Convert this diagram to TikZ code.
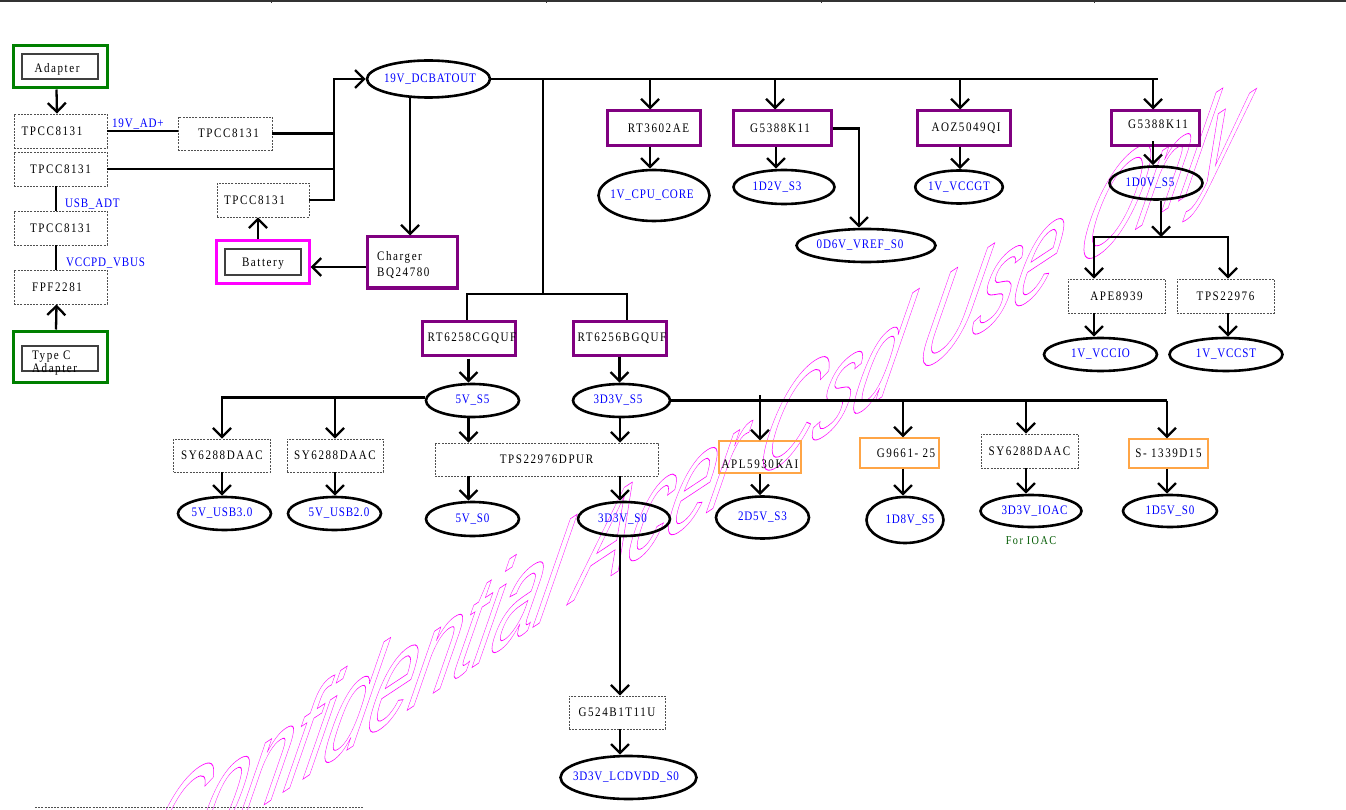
\documentclass[tikz,border=0pt]{standalone}
\usepackage{fontspec}
\setmainfont{Liberation Serif}
\newfontfamily\boxfont[FakeStretch=0.85,LetterSpace=12]{Liberation Serif}
\newfontfamily\netfont[FakeStretch=0.85,LetterSpace=6]{Liberation Serif}
\newfontfamily\wmfont{Liberation Sans}
\usetikzlibrary{arrows.meta,shapes.geometric}
\newcommand\shx[2]{\makebox[0pt]{\hspace*{#1}#2}}
\newcommand\vsh[2]{\raisebox{#1}[\height][\depth]{#2}}
\definecolor{purp}{RGB}{128,0,128}
\definecolor{grn}{RGB}{0,128,0}
\definecolor{mag}{RGB}{255,0,255}
\definecolor{org}{RGB}{255,165,70}
\definecolor{netblue}{RGB}{0,0,255}
\definecolor{ioacgreen}{RGB}{0,90,0}
\definecolor{dgray}{RGB}{80,80,80}
\begin{document}
\begin{tikzpicture}[x=1pt,y=-1pt,line width=2.3pt,
 sz/.style n args={2}{minimum width=#1pt,minimum height=#2pt},
 nd/.style={inner sep=0pt},
 bt/.style={font=\boxfont\fontsize{13}{16}\selectfont},
 nt/.style={font=\netfont\fontsize{13}{16}\selectfont,text=netblue},
 dbox/.style={nd,bt,draw=dgray,line width=0.9pt,dash pattern=on 2pt off 1.2pt},
 pbox/.style={nd,bt,draw=purp,line width=3pt},
 gbox/.style={nd,draw=grn,line width=3pt},
 mbox/.style={nd,draw=mag,line width=3pt},
 ibox/.style={nd,bt,draw=black!75,line width=1.3pt},
 obox/.style={nd,bt,draw=org,line width=1.2pt},
 net/.style={nd,nt,ellipse,draw=black,line width=2.6pt},
 arr/.style={-{Straight Barb[length=9pt,width=18pt]}},
 lab/.style={nd,nt,anchor=west},
 wmark/.style={transform shape,anchor=base west,inner sep=0pt},
]
\fill[white] (0,0) rectangle (1346,810);
\useasboundingbox (0,0) rectangle (1346,810);

% ---------- watermark (outline text, behind the diagram) ----------
\begin{scope}
\clip (0,0) rectangle (1346,810);
\begin{scope}[cm={0.78,0.515,0.52,1.50,(132,892)}]
\node[wmark,text=mag] (wm) at (0,0) {\special{pdf:literal direct 1 Tr 0.55 w}\wmfont\fontsize{100}{100}\selectfont Confidential Acer Csd Use Only\special{pdf:literal direct 0 Tr}};
\end{scope}
\end{scope}

% frame remnants
\draw[line width=2pt,black!80] (0,1.5) -- (1346,1.5);
\foreach \t in {271,546,821,1094} \draw[line width=1pt,black!80] (\t,0) -- (\t,3);
\draw[line width=0.9pt,dgray,dash pattern=on 2pt off 1.2pt] (35,807) -- (363,807);

% ---------- left column ----------
\node[gbox,sz={94}{42}] (adapter) at (60,67) {};
\node[ibox,sz={76}{25}] (adapterin) at (60,66.5) {\shx{-6pt}{\vsh{-2.5pt}{Adapter}}};
\node[dbox,sz={93}{34}] (tpcc1) at (60.5,131) {\shx{-17pt}{TPCC8131}};
\node[dbox,sz={94}{33}] (tpcc2) at (225,133.5) {\shx{7pt}{TPCC8131}};
\node[dbox,sz={93}{34}] (tpcc3) at (60.5,169) {\shx{0pt}{TPCC8131}};
\node[dbox,sz={92}{34}] (tpcc4) at (263,200) {\shx{-17pt}{TPCC8131}};
\node[dbox,sz={93}{34}] (tpcc5) at (60.5,228) {\shx{0pt}{TPCC8131}};
\node[dbox,sz={93}{34}] (fpf) at (60.5,287) {\shx{-7pt}{FPF2281}};
\node[gbox,sz={94}{51}] (typec) at (60,356.5) {};
\node[ibox,sz={76}{25}] (typecin) at (60,358.5) {};
\node[nd,bt,anchor=north west,align=left,font=\boxfont\fontsize{13}{13}\selectfont] (typectxt) at (31,350) {Type C\\Adapter};
\node[mbox,sz={93}{43}] (battery) at (262.5,262.5) {};
\node[ibox,sz={76}{26}] (batteryin) at (263,262) {\vsh{-2pt}{Battery}};
\node[lab] (l19) at (111,124) {19V\_AD+};
\node[lab] (lusb) at (64,204) {USB\_ADT};
\node[lab] (lvcc) at (65,263) {VCCPD\_VBUS};

% ---------- 19V ----------
\node[net,sz={123}{37}] (dcbat) at (428.5,79) {\shx{3pt}{19V\_DCBATOUT}};
\node[pbox,sz={90}{51}] (charger) at (412,262.5) {};
\node[nd,bt,anchor=north west,align=left] (chgtxt) at (376,250) {Charger\\BQ24780};

\coordinate (vb) at (334,79);
\draw[arr] ([xshift=-3.5pt]adapter.south) -- ([xshift=-3.5pt]tpcc1.north);
\draw (tpcc1.east) -- (tpcc1.east -| tpcc2.west);
\draw (tpcc2.east) -- (tpcc2.east -| vb);
\draw (tpcc3.east) -- (tpcc3.east -| vb);
\draw[arr] (tpcc4.east) -- (tpcc4.east -| vb) -- (vb) -- (dcbat.west);
\draw ([xshift=-4.5pt]tpcc3.south) -- ([xshift=-4.5pt]tpcc5.north);
\draw ([xshift=-4.5pt]tpcc5.south) -- ([xshift=-4.5pt]fpf.north);
\draw[arr] ([xshift=-4pt]typec.north) -- ([xshift=-4pt]fpf.south);
\draw[arr] ([xshift=-4.5pt]battery.north) -- ([xshift=-4.5pt]battery.north |- tpcc4.south);
\draw[arr] ([yshift=-4.5pt]charger.west) -- ([yshift=-4.5pt]charger.west -| battery.east);
\draw[arr] ([xshift=-18.5pt,yshift=2pt]dcbat.south) -- ([xshift=-18.5pt]dcbat.south |- charger.north);

% ---------- top bus ----------
\coordinate (busend) at (1158,79);
\draw (dcbat.east) -- (busend);
\node[pbox,sz={93}{35}] (rt3602) at (653.5,128.5) {\shx{10pt}{RT3602AE}};
\node[net,sz={111}{51}] (cpucore) at (654,195.5) {\shx{-4pt}{1V\_CPU\_CORE}};
\node[pbox,sz={98}{35}] (g5388a) at (782,128.5) {\shx{-4pt}{G5388K11}};
\node[net,sz={101}{34}] (d2v) at (784,187) {\shx{-14pt}{1D2V\_S3}};
\node[net,sz={139}{33}] (vref) at (866,245.5) {\shx{-12pt}{0D6V\_VREF\_S0}};
\node[pbox,sz={93}{35}] (aoz) at (963.5,128.5) {\shx{5pt}{AOZ5049QI}};
\node[net,sz={84}{33}] (vccgt) at (959,187) {1V\_VCCGT};
\node[pbox,sz={88}{35}] (g5388b) at (1155,128.5) {\shx{6pt}{\vsh{4pt}{G5388K11}}};
\node[net,sz={93}{33}] (d0v) at (1156,183) {\shx{-12pt}{1D0V\_S5}};
\node[dbox,sz={97}{34}] (ape) at (1116.5,296) {APE8939};
\node[dbox,sz={97}{34}] (tps) at (1225.5,296) {TPS22976};
\node[net,sz={113}{33}] (vccio) at (1100.5,354.5) {1V\_VCCIO};
\node[net,sz={113}{33}] (vccst) at (1226,354.5) {1V\_VCCST};

\coordinate (t1) at (650,79);
\coordinate (t2) at (775,79);
\coordinate (t3) at (960,79);
\coordinate (t4) at (1153,79);
\draw[arr] (t1) -- (t1 |- rt3602.north);
\draw[arr] (t2) -- (t2 |- g5388a.north);
\draw[arr] (t3) -- (t3 |- aoz.north);
\draw[arr] (t4) -- (t4 |- g5388b.north);
\draw[arr] ([xshift=-3.5pt]rt3602.south) -- ([xshift=-3.5pt]rt3602.south |- cpucore.north);
\draw[arr] ([xshift=-6pt]g5388a.south) -- ([xshift=-6pt]g5388a.south |- d2v.north);
\coordinate (vr) at (859,128.5);
\draw[arr] (g5388a.east) -- (vr) -- (vr |- vref.north);
\draw[arr] ([xshift=-3.5pt]aoz.south) -- ([xshift=-3.5pt]aoz.south |- vccgt.north);
\draw[arr] ([xshift=-2pt,yshift=6pt]g5388b.south) -- ([xshift=-2pt]g5388b.south |- d0v.north);
\coordinate (j2) at (1161,237);
\draw[arr] ([xshift=5pt]d0v.south) -- (j2);
\draw[arr] (j2) -| ([xshift=-22.5pt]ape.north);
\draw[arr] (j2) -| ([xshift=2.5pt]tps.north);
\draw[arr] ([xshift=-22.5pt]ape.south) -- ([xshift=-22.5pt]ape.south |- vccio.north);
\draw[arr] ([xshift=2.5pt]tps.south) -- ([xshift=2.5pt]tps.south |- vccst.north);

% ---------- middle ----------
\node[pbox,sz={93}{34}] (rt6258) at (468.5,338) {\shx{7pt}{RT6258CGQUF}};
\node[pbox,sz={93}{34}] (rt6256) at (619.5,338) {\shx{5pt}{RT6256BGQUF}};
\node[net,sz={93}{33}] (v5s5) at (472.5,400.5) {5V\_S5};
\node[net,sz={97}{33}] (v33s5) at (621.5,400.5) {\shx{-7pt}{3D3V\_S5}};
\node[dbox,sz={97}{33}] (sy1) at (222,455.5) {SY6288DAAC};
\node[dbox,sz={96}{33}] (sy2) at (335,455.5) {SY6288DAAC};
\node[net,sz={93}{33}] (usb3) at (224.5,513.5) {\shx{-5pt}{5V\_USB3.0}};
\node[net,sz={93}{33}] (usb2) at (334.5,513.5) {\shx{9pt}{5V\_USB2.0}};
\node[dbox,sz={223}{33}] (tpsd) at (546.5,459.5) {TPS22976DPUR};
\node[net,sz={93}{34}] (v5s0) at (472.5,519) {5V\_S0};
\node[net,sz={92}{34}] (v33s0) at (624,519) {\shx{-3pt}{3D3V\_S0}};
\node[dbox,sz={96}{33}] (g524) at (617,712.5) {G524B1T11U};
\node[net,sz={136}{43}] (lcd) at (628.5,777.5) {\shx{-5pt}{3D3V\_LCDVDD\_S0}};

\coordinate (tap) at (543,79);
\coordinate (jn) at (543,294);
\draw (tap) -- (jn);
\draw ([xshift=-1.5pt]rt6258.north) |- (jn) -| ([xshift=7.5pt]rt6256.north);
\draw[arr] ([yshift=-2pt]rt6258.south) -- (rt6258.south |- v5s5.north);
\draw[arr] (rt6256.south) -- (rt6256.south |- v33s5.north);
\coordinate (hl) at ([yshift=3pt]v5s5.west);
\draw[arr] (hl) -| (sy1.north);
\draw[arr] (hl -| sy2.north) -- (sy2.north);
\draw[arr] (sy1.south) -- (sy1.south |- usb3.north);
\draw[arr] (sy2.south) -- (sy2.south |- usb2.north);
\draw[arr] ([xshift=-4pt]v5s5.south) -- ([xshift=-4pt]v5s5.south |- tpsd.north);
\draw[arr] ([xshift=-1.5pt]v33s5.south) -- ([xshift=-1.5pt]v33s5.south |- tpsd.north);
\draw[arr] ([xshift=-4pt]v5s0.north |- tpsd.south) -- ([xshift=-4pt]v5s0.north);
\draw[arr] ([xshift=-4pt]v33s0.north |- tpsd.south) -- ([xshift=-4pt]v33s0.north);
\draw[arr] ([xshift=-4pt]v33s0.south) -- ([xshift=-4pt]v33s0.south |- g524.north);
\draw[arr] ([xshift=3pt]g524.south) -- ([xshift=3pt]g524.south |- lcd.north);

% ---------- right middle ----------
\node[obox,sz={82}{32}] (apl) at (760,457) {\vsh{-7pt}{APL5930KAI}};
\node[net,sz={93}{42}] (d25) at (762.5,517.5) {2D5V\_S3};
\node[obox,sz={79}{30}] (g9661) at (899.5,453) {\shx{13pt}{G9661- 25}};
\node[net,sz={77}{46}] (d18) at (905,520) {\shx{10pt}{1D8V\_S5}};
\node[dbox,sz={97}{34}] (sy3) at (1029.5,451) {SY6288DAAC};
\node[net,sz={101}{32}] (ioac) at (1031,511) {\shx{7pt}{3D3V\_IOAC}};
\node[nd,text=ioacgreen,font=\boxfont\fontsize{12}{14}\selectfont] (forioac) at (1031,541) {For IOAC};
\node[obox,sz={79}{29}] (s1339) at (1168.5,453.5) {S- 1339D15};
\node[net,sz={94}{32}] (d15) at (1170,511) {1D5V\_S0};

\coordinate (rb) at (1167,400.5);
\draw (v33s5.east) -- (rb);
\coordinate (a1) at (760,395);
\coordinate (a2) at (903,400.5);
\coordinate (a3) at (1026,400.5);
\draw[arr] (a1) -- (a1 |- apl.north);
\draw[arr] (a2) -- (a2 |- g9661.north);
\draw[arr] (a3) -- (a3 |- sy3.north);
\draw[arr] (rb) -- (rb |- s1339.north);
\draw[arr] (apl.south) -- (apl.south |- d25.north);
\draw[arr] ([xshift=3.5pt]g9661.south) -- ([xshift=3.5pt]g9661.south |- d18.north);
\draw[arr] ([xshift=-3.5pt]sy3.south) -- ([xshift=-3.5pt]sy3.south |- ioac.north);
\draw[arr] ([xshift=-1.5pt]s1339.south) -- ([xshift=-1.5pt]s1339.south |- d15.north);
\end{tikzpicture}
\end{document}
